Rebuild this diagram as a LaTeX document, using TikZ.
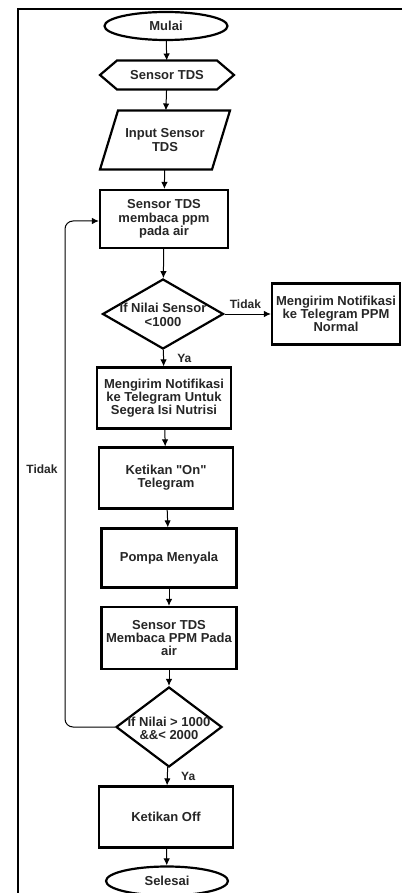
\documentclass[tikz,border=0pt]{standalone}
\usepackage{fontspec}
\setmainfont{Liberation Sans}
\usetikzlibrary{shapes.geometric, arrows.meta}

\tikzset{
  proses/.style={draw, line width=2.2pt, minimum width=134pt, minimum height=61pt, align=center, inner sep=1pt},
  terminal/.style={draw, ellipse, line width=2.2pt, minimum width=123pt, minimum height=28pt, inner sep=0pt},
  keputusan/.style={draw, diamond, line width=2.2pt, inner sep=0pt},
  ket/.style={font=\fontsize{12}{12}\selectfont\bfseries},
  panah/.style={->, line width=1pt}
}

\begin{document}
\begin{tikzpicture}[>={Latex[length=7pt, width=6.5pt]}, x=1pt, y=-1pt, font=\fontsize{13}{13.3}\selectfont\bfseries, text=black!85]

\useasboundingbox (0,0) rectangle (402,893);
\draw[line width=2pt] (402,9) -- (18,9) -- (18,893);

\node[terminal] (mulai) at (166,26) {Mulai};

\node[minimum width=100pt, minimum height=29pt, outer sep=0pt] (sensor) at (167,75) {Sensor TDS};
\draw[line width=2.2pt, line join=miter] (sensor.north west) -- (sensor.north east) -- ([xshift=17pt]sensor.east) -- (sensor.south east) -- (sensor.south west) -- ([xshift=-17pt]sensor.west) -- cycle;

\node[minimum width=112pt, minimum height=59pt, align=center, outer sep=0pt] (input) at (165,140) {Input Sensor\\TDS};
\draw[line width=2.2pt, line join=miter] ([xshift=9pt]input.north west) -- ([xshift=9pt]input.north east) -- ([xshift=-9pt]input.south east) -- ([xshift=-9pt]input.south west) -- cycle;

\node[proses, minimum width=128pt, minimum height=58pt] (baca) at (164,219) {Sensor TDS\\membaca ppm\\pada air};

\node[keputusan, minimum width=121pt, minimum height=70pt] (cek1) at (163,314) {};
\node[align=center] (teks1) at (163,315) {If Nilai Sensor\\<1000};

\node[proses, minimum width=128pt] (normal) at (336,314) {Mengirim Notifikasi\\ke Telegram PPM\\Normal};

\node[proses] (kirim) at (164,398) {Mengirim Notifikasi\\ke Telegram Untuk\\Segera Isi Nutrisi};
\node[proses] (on) at (166,478) {Ketikan \textquotedbl On\textquotedbl\\Telegram};
\node[proses, minimum width=135pt, minimum height=59pt] (pompa) at (169,558) {Pompa Menyala};
\node[proses, minimum width=135pt, minimum height=62pt] (baca2) at (169,638) {Sensor TDS\\Membaca PPM Pada\\air};

\node[keputusan, minimum width=106pt, minimum height=80pt] (cek2) at (169,727) {};
\node[align=center] (teks2) at (169,728) {If Nilai > 1000\\\&\&< 2000};

\node[proses] (off) at (166,817) {Ketikan Off};
\node[terminal, minimum width=122pt, minimum height=29pt] (selesai) at (167,881) {Selesai};

\draw[panah] (mulai) -- (sensor);
\draw[panah] (sensor) -- (input);
\draw[panah] (input) -- (baca);
\draw[panah] (baca) -- (cek1);
\draw[panah] (cek1) -- (normal) node[ket, pos=0.45, above=2pt] (tdk1) {Tidak};
\draw[panah] (cek1) -- (kirim) node[ket, midway, right=10pt] (ya1) {Ya};
\draw[panah] (kirim) -- (on);
\draw[panah] (on) -- (pompa);
\draw[panah] (pompa) -- (baca2);
\draw[panah] (baca2) -- (cek2);
\draw[panah] (cek2) -- (off) node[ket, midway, right=10pt] (ya2) {Ya};
\draw[panah] (off) -- (selesai);

\coordinate (balik) at (65,0);
\draw[panah, rounded corners=8pt] (cek2.west) -| (balik |- 0,221) -- (baca.west |- 0,221);
\node[ket] (tdk2) at (42,469) {Tidak};

\end{tikzpicture}
\end{document}
